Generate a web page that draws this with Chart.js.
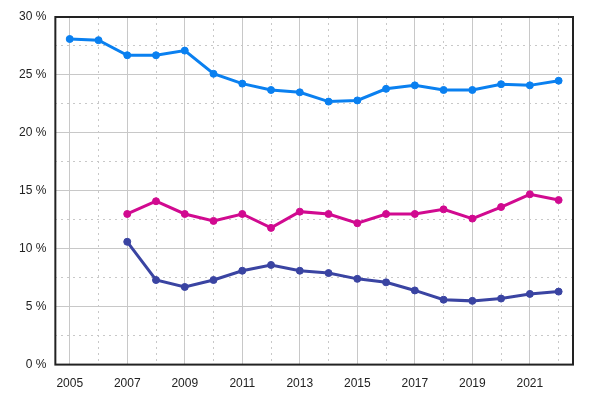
<!DOCTYPE html>
<html>
<head>
<meta charset="utf-8">
<script src="https://cdn.jsdelivr.net/npm/chart.js@4/dist/chart.umd.min.js"></script>
<style>
html,body{margin:0;padding:0;background:#fff;}
#c{display:block;}
</style>
</head>
<body>
<canvas id="c" width="600" height="400"></canvas>
<script>
const years = ['2005','2006','2007','2008','2009','2010','2011','2012','2013','2014','2015','2016','2017','2018','2019','2020','2021','2022'];
const seriesTop = [28.1, 28.0, 26.7, 26.7, 27.1, 25.1, 24.25, 23.7, 23.5, 22.7, 22.8, 23.8, 24.1, 23.7, 23.7, 24.2, 24.1, 24.5];
const seriesMid = [null, null, 13.0, 14.1, 13.0, 12.4, 13.0, 11.8, 13.2, 13.0, 12.2, 13.0, 13.0, 13.4, 12.6, 13.6, 14.7, 14.2];
const seriesLow = [null, null, 10.6, 7.3, 6.7, 7.3, 8.1, 8.6, 8.1, 7.9, 7.4, 7.1, 6.4, 5.6, 5.5, 5.7, 6.1, 6.3];
const yMin = 0, yMax = 30, yStep = 2.5;

const frame = {
  id: 'frame',
  afterDraw(chart) {
    const a = chart.chartArea, ctx = chart.ctx;
    ctx.save();
    ctx.strokeStyle = '#222';
    ctx.lineWidth = 2;
    ctx.strokeRect(a.left, a.top, a.right - a.left, a.bottom - a.top);
    ctx.restore();
  }
};

function ds(data, color) {
  return {
    data: data,
    borderColor: color,
    backgroundColor: color,
    borderWidth: 3,
    pointRadius: 3.5,
    pointBorderWidth: 1,
    pointHoverRadius: 3.5,
    tension: 0,
    spanGaps: false
  };
}

new Chart(document.getElementById('c'), {
  type: 'line',
  data: {
    labels: years,
    datasets: [
      ds(seriesTop, '#0a80f0'),
      ds(seriesMid, '#d10a90'),
      ds(seriesLow, '#3a44a2')
    ]
  },
  options: {
    responsive: false,
    animation: false,
    layout: { padding: { top: 17, right: 27, bottom: -3, left: 10 } },
    plugins: { legend: { display: false }, tooltip: { enabled: false } },
    scales: {
      x: {
        offset: true,
        grid: {
          offset: false,
          drawTicks: false,
          color: '#c8c8c8',
          lineWidth: 1
        },
        border: {
          display: false,
          dash: (ctx) => (ctx.index % 2 === 0 ? [] : [2, 4])
        },
        ticks: {
          autoSkip: false,
          maxRotation: 0,
          padding: 12,
          color: '#222',
          font: { family: 'Liberation Sans, Arial, sans-serif', size: 12 },
          callback: function (v, i) { return i % 2 === 0 ? years[i] : ''; }
        }
      },
      y: {
        min: yMin,
        max: yMax,
        grid: {
          drawTicks: false,
          color: '#c8c8c8',
          lineWidth: 1
        },
        border: {
          display: false,
          dash: (ctx) => (ctx.tick && ctx.tick.value % 5 === 0 ? [] : [2, 4])
        },
        ticks: {
          stepSize: yStep,
          padding: 9,
          color: '#222',
          font: { family: 'Liberation Sans, Arial, sans-serif', size: 12 },
          callback: function (v) { return v % 5 === 0 ? v + ' %' : ''; }
        }
      }
    }
  },
  plugins: [frame]
});
</script>
</body>
</html>
